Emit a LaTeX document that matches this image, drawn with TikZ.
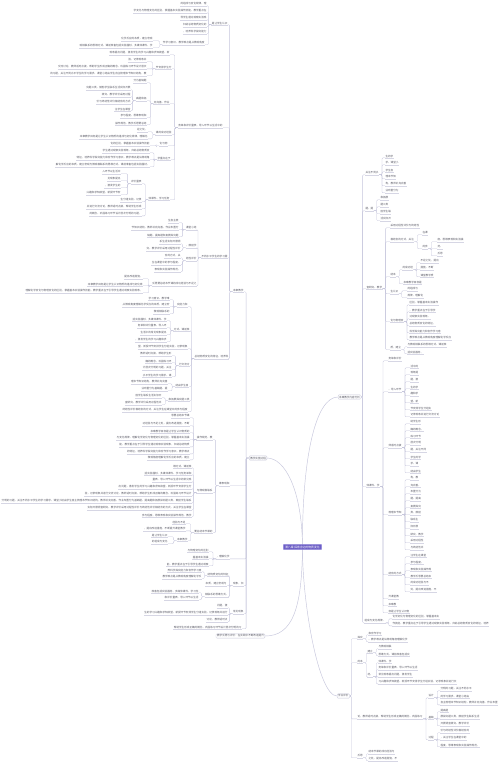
\documentclass[tikz,border=0pt]{standalone}
\usepackage{fontspec}
\usepackage{xstring}
\newfontfamily\cjk{Noto Sans CJK SC}
\pgfdeclarelayer{bg}
\pgfsetlayers{bg,main}
\definecolor{txtc}{RGB}{88,88,100}
\definecolor{boxc}{RGB}{200,200,218}
\definecolor{ctrc}{RGB}{108,94,198}
\definecolor{ctrd}{RGB}{150,140,222}
\definecolor{lnc}{RGB}{198,198,220}
\definecolor{ulc}{RGB}{214,214,228}
\def\src{本章教学目标是让学生认识物质的组成与变化规律，理解化学变化与物理变化的区别，掌握基本实验操作技能。教学重点在于引导学生通过观察实验现象，归纳总结物质变化的特征，培养科学探究能力和合作学习意识。教学难点是从微观角度理解化学反应的本质，建立宏观与微观相联系的思维方式。课前准备包括实验器材、多媒体课件、学习任务单和评价量表。导入环节以生活中的常见现象提出问题，激发学生的学习兴趣和求知欲望。新授环节安排学生分组实验，记录现象并进行交流讨论，教师适时点拨，帮助学生形成正确的概念。巩固练习环节设计层次分明的习题，关注不同水平学生的学习需求。课堂小结由学生自主梳理本节知识结构，教师补充完善。作业布置分为基础题、提高题和拓展探究题三类，鼓励学生联系生活实际开展调查研究。教学评价采用过程性评价与终结性评价相结合的方式，关注学生在课堂中的参与程度、思维表现和实验操作规范。教学反思要总结本节课的成功经验与不足之处，提出改进措施，不断提升课堂教学质量。}
\StrLen{\src}[\srclen]
\newcount\txoff
\newcount\txa
\newcount\txb
\newcommand\tx[1]{%
  \ifnum\numexpr\txoff+#1\relax>\srclen\relax\global\txoff=0\relax\fi
  \txa=\numexpr\txoff+1\relax
  \txb=\numexpr\txoff+#1\relax
  \StrMid{\src}{\the\txa}{\the\txb}%
  \global\txoff=\numexpr\txoff+#1+2\relax}
\tikzset{
  lf/.style={font=\cjk\fontsize{2.6pt}{3pt}\selectfont, text=txtc, inner xsep=0.3pt, inner ysep=0.4pt,
    append after command={(\tikzlastnode.south west) edge[draw=ulc, line width=0.25pt] (\tikzlastnode.south east)}},
  lone/.style={font=\cjk\fontsize{2.6pt}{3pt}\selectfont, text=txtc, draw=boxc, fill=white, rounded corners=0.8pt, line width=0.3pt, inner xsep=1pt, inner ysep=0.9pt},
  ctr/.style={font=\cjk\fontsize{2.8pt}{3.2pt}\selectfont, text=white, fill=ctrc, draw=ctrd, line width=0.4pt, rounded corners=0.8pt, inner xsep=2pt, inner ysep=1.4pt},
  cn/.style={draw=lnc, line width=0.3pt, rounded corners=1pt},
  cc/.style={draw=lnc, line width=0.45pt}
}
\newcommand\Ln[4]{\node[lf,anchor=east] (#1) at (#2,#3) {\tx{#4}};}
\newcommand\Rn[4]{\node[lf,anchor=west] (#1) at (#2,#3) {\tx{#4}};}
\newcommand\Lk[3][3]{\draw[cn] (#2.south west) -- ++(-#1,0) |- (#3.south east);}
\newcommand\Rk[3][3]{\draw[cn] (#2.south east) -- ++(#1,0) |- (#3.south west);}
\newcommand\Lkids[5][3]{\foreach \yy/\nn [count=\ii] in {#5}{\node[lf,anchor=east] (#3\ii) at (#4,\yy) {\tx{\nn}}; \draw[cn] (#2.south west) -- ++(-#1,0) |- (#3\ii.south east);}}
\newcommand\Rkids[5][3]{\foreach \yy/\nn [count=\ii] in {#5}{\node[lf,anchor=west] (#3\ii) at (#4,\yy) {\tx{\nn}}; \draw[cn] (#2.south east) -- ++(#1,0) |- (#3\ii.south west);}}
\newcommand\Lkone[3][3]{\draw[cn] (#2.west) -- ++(-#1,0) |- (#3.south east);}
\newcommand\Rkone[3][3]{\draw[cn] (#2.east) -- ++(#1,0) |- (#3.south west);}
\begin{document}
\begin{tikzpicture}[x=1pt,y=-1pt]
\begin{pgfonlayer}{bg}\fill[white] (0,0) rectangle (500,764);\end{pgfonlayer}
\useasboundingbox (0,0) rectangle (500,764);
% centre and first level
\node[ctr] (C) at (302.5,547) {第八章 探索身边的物质变化};
\node[lone,anchor=east] (A) at (267,458) {教学实施过程};
\node[lone,anchor=east] (B) at (265,636) {教学反思与评价：在实践中不断改进提升};
\node[lone,anchor=west] (R1) at (338,397) {本章教学内容分析};
\node[lone,anchor=west] (R2) at (337,696) {学业评价};
\begin{pgfonlayer}{bg}
\draw[cc] (C.center) .. controls (302,490) and (285,458) .. (A.east);
\draw[cc] (C.center) .. controls (302,610) and (292,636) .. (B.east);
\draw[cc] (C.center) .. controls (302,460) and (315,397) .. (R1.west);
\draw[cc] (C.center) .. controls (302,600) and (318,696) .. (R2.west);
\end{pgfonlayer}
% ---------- left: P1 ----------
\Ln{P1}{244}{290}{4}
\Ln{G1}{228}{23}{6}
\Lkids{G1}{gak}{207}{4/10,11/28,18/10,25/9,32/9}
\Ln{g1f}{205}{43}{16}
\Lk{G1}{g1f}
\Lkids{g1f}{gbk}{153}{39/12,46/28}
\Ln{G2}{223}{126}{17}
\Ln{g2a}{170}{53}{23}
\Ln{g2b}{172}{67}{6}
\Lkids{g2b}{gck}{147}{60/7,67/34,74/37}
\Ln{g2c}{170}{102}{6}
\Ln{g2c1}{147}{81}{5}
\Ln{g2c2}{147}{99}{4}
\Lkids{g2c2}{gdk}{131}{88/17,95/11,102/13,109/6}
\Ln{g2c3}{147}{116}{10}
\Ln{g2c4}{147}{123}{12}
\Ln{g2d}{172}{133}{6}
\Lkids{g2d}{gek}{148}{130/4,137/26}
\Ln{g2e}{168}{144}{3}
\Lkids{g2e}{gfk}{150}{144/15}
\Ln{g2f}{171}{158}{5}
\Lkids{g2f}{ggk}{150}{151/18,158/28,165/36}
\Ln{g2g}{170}{198}{8}
\Ln{g2g1}{142}{182}{4}
\Lkids{g2g1}{ghk}{121}{172/7,179/5,186/6,193/13}
\Lk{g2g}{g2g1}
\Lkids{g2g}{gik}{142}{200/8,207/21,214/20}
\foreach \q in {g2a,g2b,g2c,g2d,g2e,g2f,g2g}{\Lk{G2}{\q}}
\foreach \q in {g2c1,g2c2,g2c3,g2c4}{\Lk{g2c}{\q}}
\Ln{G3}{228}{256}{10}
\Ln{g3a}{197}{228}{4}
\Lkids{g3a}{gjk}{179}{221/4,228/18,235/12}
\Ln{g3b}{197}{246}{4}
\Lkids{g3b}{gkk}{181}{242/8,249/13}
\Ln{g3c}{197}{259}{4}
\Lkids{g3c}{glk}{181}{256/6,263/11,270/10}
\Ln{g3d}{197}{284}{17}
\Lkids{g3d}{gmk}{143}{277/7,284/21,291/45}
\foreach \q in {g3a,g3b,g3c,g3d}{\Lk{G3}{\q}}
\Ln{G4}{229}{357}{13}
\Ln{g4a}{188}{305}{4}
\Lkids{g4a}{gnk}{170}{298/8,305/18,312/6}
\Ln{g4b}{190}{329}{6}
\Lkids{g4b}{gok}{167}{319/13,326/11,333/10,340/12}
\Ln{g4c}{188}{347}{19}
\Ln{g4d}{190}{364}{4}
\Lkids{g4d}{gpk}{172}{354/12,361/10,368/11,375/11}
\Ln{g4e}{189}{385}{5}
\Lkids{g4e}{gqk}{168}{382/14,389/10}
\Ln{g4f}{190}{399}{8}
\Lkids{g4f}{grk}{162}{396/10,403/14}
\Ln{g4g}{188}{410}{25}
\foreach \q in {g4a,g4b,g4c,g4d,g4e,g4f,g4g}{\Lk{G4}{\q}}
\foreach \q in {G1,G2,G3,G4}{\Lk{P1}{\q}}
% ---------- left: P2..P5 ----------
\Ln{P2}{230}{484}{4}
\Ln{G5}{213}{438}{6}
\Lkids{G5}{hak}{190}{416/7,424/18,431/15,438/28,445/27,452/24,458/16}
\Ln{G6}{213}{491}{6}
\Lkids{G6}{hbk}{192}{466/7,473/18,480/15,487/28,494/41,501/73,508/40,515/19}
\Ln{G7}{213}{531}{7}
\Lkids{G7}{hck}{186}{522/5,529/16}
\Ln{g7c}{188}{539}{4}
\Lk{G7}{g7c}
\Lkids{g7c}{hdk}{168}{535/6,542/6}
\foreach \q in {G5,G6,G7}{\Lk{P2}{\q}}
\Ln{P3}{230}{557}{5}
\Lkids{P3}{hek}{209}{550/8,557/6,564/16}
\Ln{P4}{244}{584}{4}
\Ln{p4a}{229}{574}{8}
\Lkids{p4a}{hfk}{202}{570/13,577/15}
\Ln{p4b}{227}{584}{8}
\Ln{p4c}{229}{595}{9}
\Lkids{p4c}{hgk}{199}{591/18,598/13}
\foreach \q in {p4a,p4b,p4c}{\Lk{P4}{\q}}
\Ln{P5}{244}{612}{4}
\Lkids{P5}{hhk}{228}{606/4,613/32,620/8}
\Ln{L}{242}{627}{26}
\foreach \q in {P1,P2,P3,P4,P5,L}{\Lkone{A}{\q}}
% ---------- right: R1 ----------
\Rn{R1a}{365}{173}{5}
\Rkids{R1a}{rak}{385}{156/3,163/5,170/3,177/4,184/8,191/5}
\Rn{R1b}{365}{209}{3}
\Rkids{R1b}{rbk}{380}{198/3,205/3,212/4,219/4}
\Rn{R1c}{366}{287}{6}
\Rn{r1ca}{390}{226}{11}
\Rn{r1cb}{390}{240}{9}
\Rn{r1cb1}{422}{233}{2}
\Rn{r1cb2}{422}{247}{2}
\Rkids{r1cb2}{rck}{437}{240/10,247/2,254/2}
\Rk{r1cb}{r1cb1}
\Rk{r1cb}{r1cb2}
\Rn{r1cc}{390}{275}{2}
\Rn{r1cc1}{402}{268}{4}
\Rkids{r1cc1}{rdk}{420}{261/7,268/5,275/5}
\Rn{r1cc2}{403}{282}{7}
\Rk{r1cc}{r1cc1}
\Rk{r1cc}{r1cc2}
\Rn{r1cd}{390}{292}{3}
\Rkids{r1cd}{rek}{407}{289/4,296/6}
\Rn{r1ce}{390}{320}{5}
\Rkids{r1ce}{rfk}{409}{303/11,310/10,317/8,324/10,331/12,338/16}
\Rn{r1cf}{390}{348}{4}
\Rkids{r1cf}{rgk}{407}{345/15,352/6}
\foreach \q in {r1ca,r1cb,r1cc,r1cd,r1ce,r1cf}{\Rk{R1c}{\q}}
\Rn{R1d}{366}{485}{5}
\Rn{r1da}{388}{359}{5}
\Rn{r1db}{388}{390}{5}
\Rkids{r1db}{rhk}{410}{366/3,373/3,380/3,387/3,394/3,401/3,408/8,415/11}
\Rn{r1dc}{388}{446}{5}
\Rkids{r1dc}{rik}{410}{422/4,429/5,436/4,443/4,450/6,457/4,464/3,471/4}
\Rn{r1dd}{388}{513}{5}
\Rkids{r1dd}{rjk}{410}{478/3,485/4,492/4,499/4,506/4,513/4,520/3,527/3,534/5,541/5,548/5}
\Rn{r1de}{388}{573}{5}
\Rkids{r1de}{rkk}{410}{555/6,562/5,569/8,576/8,583/7,590/10}
\Rn{r1df}{388}{597}{4}
\Rn{r1dg}{388}{604}{3}
\Rn{r1dh}{388}{611}{8}
\foreach \q in {r1da,r1db,r1dc,r1dd,r1de,r1df,r1dg,r1dh}{\Rk{R1d}{\q}}
\Rn{R1e}{364}{621}{8}
\Rkids{R1e}{rlk}{392}{617/18,624/37}
\foreach \q in {R1a,R1b,R1c,R1d,R1e}{\Rkone[1.5]{R1}{\q}}
% ---------- right: R2 ----------
\Rn{R2a}{357}{637}{2}
\Rkids{R2a}{rmk}{368}{633/5,640/15}
\Rn{R2b}{357}{661}{2}
\Rn{r2ba}{367}{651}{2}
\Rkids{r2ba}{rnk}{378}{647/5,654/12}
\Rn{r2bb}{367}{675}{2}
\Rkids{r2bb}{rok}{378}{661/5,668/15,675/13,682/30}
\Rk{R2b}{r2ba}
\Rk{R2b}{r2bb}
\Rn{R2c}{357}{717}{25}
\Rn{r2ca}{428}{696}{2}
\Rkids{r2ca}{rpk}{440}{689/12,696/11,703/22}
\Rn{r2cb}{428}{717}{2}
\Rkids{r2cb}{rqk}{440}{710/3,717/15,724/11}
\Rn{r2cc}{428}{738}{2}
\Rkids{r2cc}{rrk}{440}{731/11,738/10,745/15}
\foreach \q in {r2ca,r2cb,r2cc}{\Rk{R2c}{\q}}
\Rn{R2d}{357}{756}{2}
\Rkids{R2d}{rsk}{368}{752/10,759/11}
\foreach \q in {R2a,R2b,R2c,R2d}{\Rkone[1.5]{R2}{\q}}
\end{tikzpicture}
\end{document}
